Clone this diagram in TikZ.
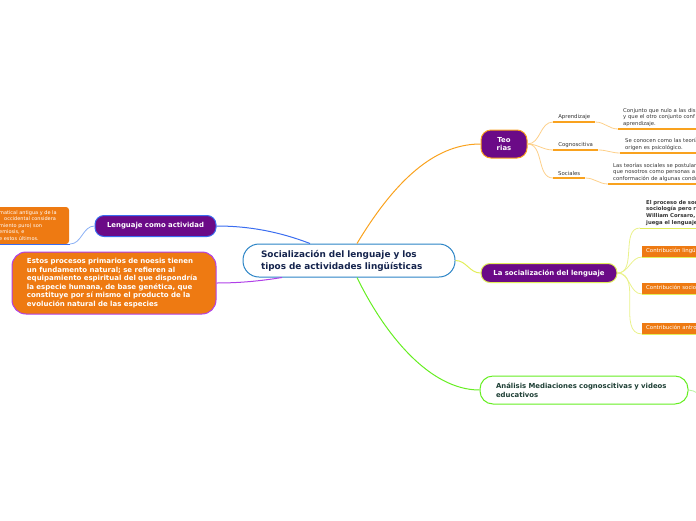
\documentclass[tikz,border=0pt]{standalone}
\usepackage{fontspec}
\setmainfont{DejaVu Sans}
\usetikzlibrary{positioning}

\definecolor{mmpurple}{HTML}{6B0A87}
\definecolor{mmorange}{HTML}{EE7A12}
\definecolor{mmblue}{HTML}{2B84C6}
\definecolor{linkblue}{HTML}{3A6DF0}
\definecolor{lightblue}{HTML}{8AB0F5}
\definecolor{linkorange}{HTML}{F9A21E}
\definecolor{lightorange}{HTML}{FDD08A}
\definecolor{linklime}{HTML}{E2EE5A}
\definecolor{lightlime}{HTML}{EAF28C}
\definecolor{linkgreen}{HTML}{66EE22}
\definecolor{lightgreen}{HTML}{B8F5A0}
\definecolor{linkviolet}{HTML}{B040E8}
\definecolor{textnavy}{HTML}{15244D}
\definecolor{textgreen}{HTML}{1E3F35}
\definecolor{textgray}{HTML}{333333}

\tikzset{
  central/.style={draw=mmblue, line width=1pt, fill=white, rounded corners=16pt,
    minimum width=212pt, minimum height=33pt, inner xsep=18pt, text width=176pt,
    align=left, text=textnavy, font=\bfseries\fontsize{8.9}{12}\selectfont},
  topic/.style={fill=mmpurple, line width=1pt, rounded corners=10pt, text=white,
    align=center, inner sep=0pt, font=\bfseries\fontsize{6.9}{8}\selectfont},
  bigbox/.style={fill=mmorange, draw=linkviolet, line width=1pt, rounded corners=14pt,
    minimum width=204pt, minimum height=62pt, inner xsep=15pt, text width=174pt,
    align=left, text=white, font=\bfseries\fontsize{7}{8.6}\selectfont},
  sublabel/.style={anchor=south west, inner xsep=4pt, inner ysep=2pt, text=textgray,
    font=\fontsize{5.4}{6.4}\selectfont},
  leaf/.style={anchor=south west, inner xsep=5pt, inner ysep=2.5pt, text width=110pt,
    align=left, text=textgray, font=\fontsize{5.3}{6.6}\selectfont},
  contrib/.style={anchor=south west, fill=mmorange, inner xsep=4pt, inner ysep=0pt,
    minimum height=11pt, text width=110pt, align=left, text=white,
    font=\fontsize{5.4}{6}\selectfont},
  underline/.style={line width=2pt},
  link/.style={line width=1pt},
  twig/.style={line width=0.8pt}
}

\begin{document}
\begin{tikzpicture}[x=1pt, y=-1pt]
  \useasboundingbox (0,0) rectangle (696,520);
  \clip (0,0) rectangle (696,520);

  % Central idea
  \node[central] (central) at (349,260.5)
    {Socialización del lenguaje y los\\tipos de actividades lingüísticas};

  % Main topics
  \node[topic, draw=linkorange, minimum width=46pt, minimum height=28pt] (teorias)
    at (504,144) {Teo\\rias};
  \node[topic, draw=linklime, rounded corners=9pt, minimum width=136pt, minimum height=19pt] (socializacion)
    at (549,273) {La socialización del lenguaje};
  \node[draw=linkgreen, line width=1pt, fill=white, rounded corners=13pt, minimum width=208pt,
    minimum height=28pt, inner xsep=16pt, text width=176pt, align=left, text=textgreen,
    font=\bfseries\fontsize{6.9}{8.8}\selectfont] (analisis)
    at (584,390) {Análisis Mediaciones cognoscitivas y videos\\educativos};
  \node[topic, draw=linkblue, rounded corners=9pt, minimum width=121pt, minimum height=21pt] (lenguaje)
    at (155.5,226) {Lenguaje como actividad};
  \node[bigbox] (noesis) at (114,283)
    {Estos procesos primarios de noesis tienen\\un fundamento natural; se refieren al\\equipamiento espiritual del que dispondría\\la especie humana, de base genética, que\\constituye por sí mismo el producto de la\\evolución natural de las especies};

  % Connectors from the central idea
  \draw[link, linkorange] ([xshift=8pt]central.north) .. controls (400,172) and (440,144) .. (teorias.west);
  \draw[link, linklime] (central.east) to[out=0, in=180] (socializacion.west);
  \draw[link, linkgreen] ([xshift=8pt]central.south) .. controls (385,335) and (430,390) .. (analisis.west);
  \draw[link, linkblue] ([xshift=-39pt]central.north) .. controls (280,232) and (250,226) .. (lenguaje.east);
  \draw[link, linkviolet] ([xshift=-67pt]central.south) .. controls (260,281) and (240,283) .. (noesis.east);

  % Teorias
  \node[sublabel, minimum width=42pt] (aprendizaje) at (553,122) {Aprendizaje};
  \node[sublabel, minimum width=45pt] (cognoscitiva) at (553,150) {Cognoscitiva};
  \node[sublabel, minimum width=32pt] (sociales) at (553,178) {Sociales};
  \foreach \sub in {aprendizaje, cognoscitiva, sociales}{
    \draw[twig, lightorange] (teorias.east) to[out=0, in=180] (\sub.south west);
    \draw[underline, linkorange] (\sub.south west) -- (\sub.south east);
  }
  \node[leaf] (conjunto) at (618,129)
    {Conjunto que nulo a las dis\\y que el otro conjunto conf\\aprendizaje.};
  \node[leaf] (conocen) at (620,153)
    {Se conocen como las teorías\\origen es psicológico.};
  \node[leaf] (postulan) at (608,184)
    {Las teorías sociales se postulan\\que nosotros como personas a\\conformación de algunas conductas};
  \foreach \sub/\leaf in {aprendizaje/conjunto, cognoscitiva/conocen, sociales/postulan}{
    \draw[twig, lightorange] (\sub.south east) to[out=0, in=180] (\leaf.south west);
    \draw[underline, linkorange] (\leaf.south west) -- (\leaf.south east);
  }

  % La socializacion del lenguaje
  \node[leaf, inner xsep=6pt] (proceso) at (640,228)
    {\textbf{El proceso de socia}\\\textbf{sociología pero rec}\\\textbf{William Corsaro, ha}\\\textbf{juega el lenguaje en}};
  \node[contrib] (linguistica) at (642,257) {Contribución lingüística};
  \node[contrib] (sociologica) at (642,294) {Contribución sociológica};
  \node[contrib] (antropologica) at (642,334) {Contribución antropológica};
  \foreach \child in {proceso, linguistica, sociologica, antropologica}{
    \draw[twig, lightlime] (socializacion.east) to[out=0, in=180] (\child.south west);
    \draw[link, linklime] (\child.south west) -- (\child.south east);
  }

  % Analisis
  \coordinate (analisis-out) at (706,396);
  \draw[twig, lightgreen] (analisis.east) to[out=0, in=180] (analisis-out);

  % Lenguaje como actividad
  \fill[mmorange, rounded corners=3pt] (-10,207) rectangle (69,244);
  \node[anchor=west, inner sep=0pt, align=left, text=white,
    font=\fontsize{5}{6.5}\selectfont] (gramatica) at (-1,225.5)
    {matical antigua y de la\\\hspace{5pt}occidental considera\\miento puro) son\\emiosis, e\\e estos últimos.};
  \coordinate (gramatica-end) at (70,244);
  \draw[link, linkblue] (-10,244) -- (gramatica-end);
  \draw[twig, lightblue] (lenguaje.west) to[out=180, in=0] (gramatica-end);
\end{tikzpicture}
\end{document}
